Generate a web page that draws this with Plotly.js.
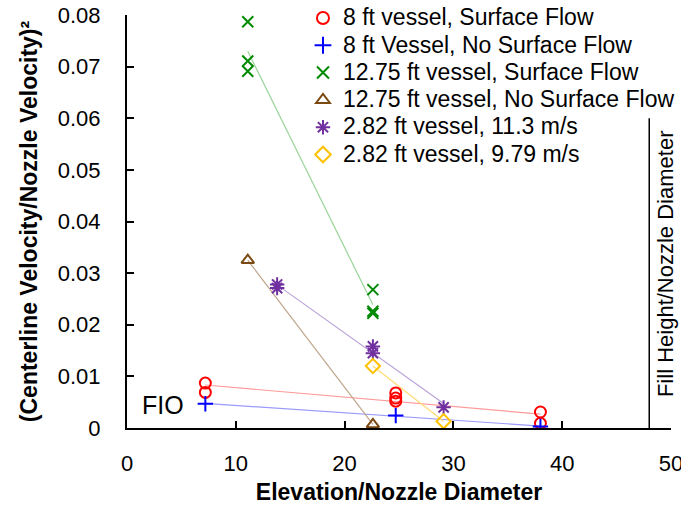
<!DOCTYPE html>
<html>
<head>
<meta charset="utf-8">
<script src="https://cdn.plot.ly/plotly-3.0.1.min.js"></script>
<style>html,body{margin:0;padding:0;background:#fff;}#chart{width:681px;height:508px;}</style>
</head>
<body>
<div id="chart"></div>
<script>
// ---- data ----
const seriesNames = [
  "8 ft vessel, Surface Flow",
  "8 ft Vessel, No Surface Flow",
  "12.75 ft vessel, Surface Flow",
  "12.75 ft vessel, No Surface Flow",
  "2.82 ft vessel, 11.3 m/s",
  "2.82 ft vessel, 9.79 m/s"
];
const red_x    = [7.2, 7.2, 24.7, 24.7, 24.7, 38.0, 38.0];
const red_y    = [0.0087, 0.0069, 0.0068, 0.0058, 0.0052, 0.0031, 0.0009];
const blue_x   = [7.2, 24.7, 38.0];
const blue_y   = [0.0047, 0.0024, 0.0003];
const green_x  = [11.1, 11.1, 11.1, 22.6, 22.6, 22.6];
const green_y  = [0.0787, 0.0711, 0.0691, 0.0268, 0.0226, 0.0222];
const brown_x  = [11.1, 22.6];
const brown_y  = [0.0325, 0.0007];
const purple_x = [13.8, 13.8, 22.6, 22.6, 29.1];
const purple_y = [0.0278, 0.0271, 0.0158, 0.0145, 0.0040];
const yellow_x = [22.6, 29.1];
const yellow_y = [0.0120, 0.0013];
const fillHeight = 48;          // Fill Height/Nozzle Diameter
const fillLineTop = 0.06;
const xTicks = [0, 10, 20, 30, 40, 50];
const yTicks = [0, 0.01, 0.02, 0.03, 0.04, 0.05, 0.06, 0.07, 0.08];

// ---- styles ----
const markerColors = ["#FF0000", "#0000FF", "#008A00", "#7B4A12", "#7030A0", "#FFC000"];
const lineColors   = ["#FF9A9A", "#9A9AFF", "#9AD49A", "#BFA68C", "#B9A3D8", "#FFDC73"];
const symbols = ["circle-open", "cross-thin-open", "x-thin-open", "triangle-up-open", "asterisk-open", "diamond-open"];
const sizes = [11, 11, 11, 11, 12, 11];

const xs = [red_x, blue_x, green_x, brown_x, purple_x, yellow_x];
const ys = [red_y, blue_y, green_y, brown_y, purple_y, yellow_y];

function linFit(x, y) {
  const n = x.length;
  const mx = x.reduce((a, b) => a + b, 0) / n;
  const my = y.reduce((a, b) => a + b, 0) / n;
  let sxy = 0, sxx = 0;
  for (let i = 0; i < n; i++) { sxy += (x[i] - mx) * (y[i] - my); sxx += (x[i] - mx) * (x[i] - mx); }
  const m = sxy / sxx, b = my - m * mx;
  const x0 = Math.min(...x), x1 = Math.max(...x);
  return {x: [x0, x1], y: [m * x0 + b, m * x1 + b]};
}

const FONT = "Liberation Sans, Arial, sans-serif";
const traces = [];
// trendlines first (behind markers)
for (let i = 0; i < 6; i++) {
  const f = linFit(xs[i], ys[i]);
  traces.push({
    x: f.x, y: f.y, type: "scatter", mode: "lines", showlegend: false, hoverinfo: "skip",
    line: {color: lineColors[i], width: 1.2}
  });
}
for (let i = 0; i < 6; i++) {
  traces.push({
    x: xs[i], y: ys[i], type: "scatter", mode: "markers",
    name: '<span style="font-size:23px">' + seriesNames[i] + '</span>',
    marker: {symbol: symbols[i], size: sizes[i], color: markerColors[i],
             line: {color: markerColors[i], width: 2}}
  });
}

const layout = {
  width: 681, height: 508,
  margin: {l: 127, r: 10, t: 15, b: 80, pad: 0, autoexpand: false},
  paper_bgcolor: "#ffffff", plot_bgcolor: "#ffffff",
  font: {family: FONT, color: "#000000", size: 22},
  showlegend: true,
  legend: {
    x: 0.3235, y: 1.038, xanchor: "left", yanchor: "top",
    bgcolor: "rgba(0,0,0,0)", borderwidth: 0,
    font: {family: FONT, size: 18.7, color: "#000000"},
    tracegroupgap: 0, itemsizing: "constant"
  },
  xaxis: {
    range: [0, 50], tickvals: xTicks, ticks: "inside", ticklen: 7, tickwidth: 2, tickcolor: "#000",
    showline: true, linecolor: "#000", linewidth: 2, showgrid: false, zeroline: false,
    tickfont: {family: FONT, size: 22, color: "#000"}, ticklabelstandoff: 15,
    ticklabeloverflow: "allow",
    title: {text: "<b>Elevation/Nozzle Diameter</b>", font: {family: FONT, size: 23, color: "#000"}, standoff: 8}
  },
  yaxis: {
    range: [0, 0.08], tickvals: yTicks, ticks: "inside", ticklen: 7, tickwidth: 2, tickcolor: "#000",
    showline: true, linecolor: "#000", linewidth: 2, showgrid: false, zeroline: false,
    tickfont: {family: FONT, size: 22, color: "#000"}, ticklabelstandoff: 20,
    title: {text: "<b>(Centerline Velocity/Nozzle Velocity)²</b>", font: {family: FONT, size: 23, color: "#000"}, standoff: 14}
  },
  shapes: [{
    type: "line", xref: "x", yref: "y", x0: fillHeight, x1: fillHeight, y0: 0, y1: fillLineTop,
    line: {color: "#000", width: 1.5}
  }],
  annotations: [
    {text: "Fill Height/Nozzle Diameter", xref: "x", yref: "y", x: fillHeight, y: 0.0318,
     xanchor: "center", yanchor: "middle", xshift: 17, textangle: -90, showarrow: false,
     font: {family: FONT, size: 22, color: "#000"}},
    {text: "FIO", xref: "x", yref: "y", x: 3.3, y: 0.0044, xanchor: "center", yanchor: "middle",
     showarrow: false, font: {family: FONT, size: 25, color: "#000"}}
  ]
};

Plotly.newPlot("chart", traces, layout, {displayModeBar: false, staticPlot: true});
</script>
</body>
</html>
